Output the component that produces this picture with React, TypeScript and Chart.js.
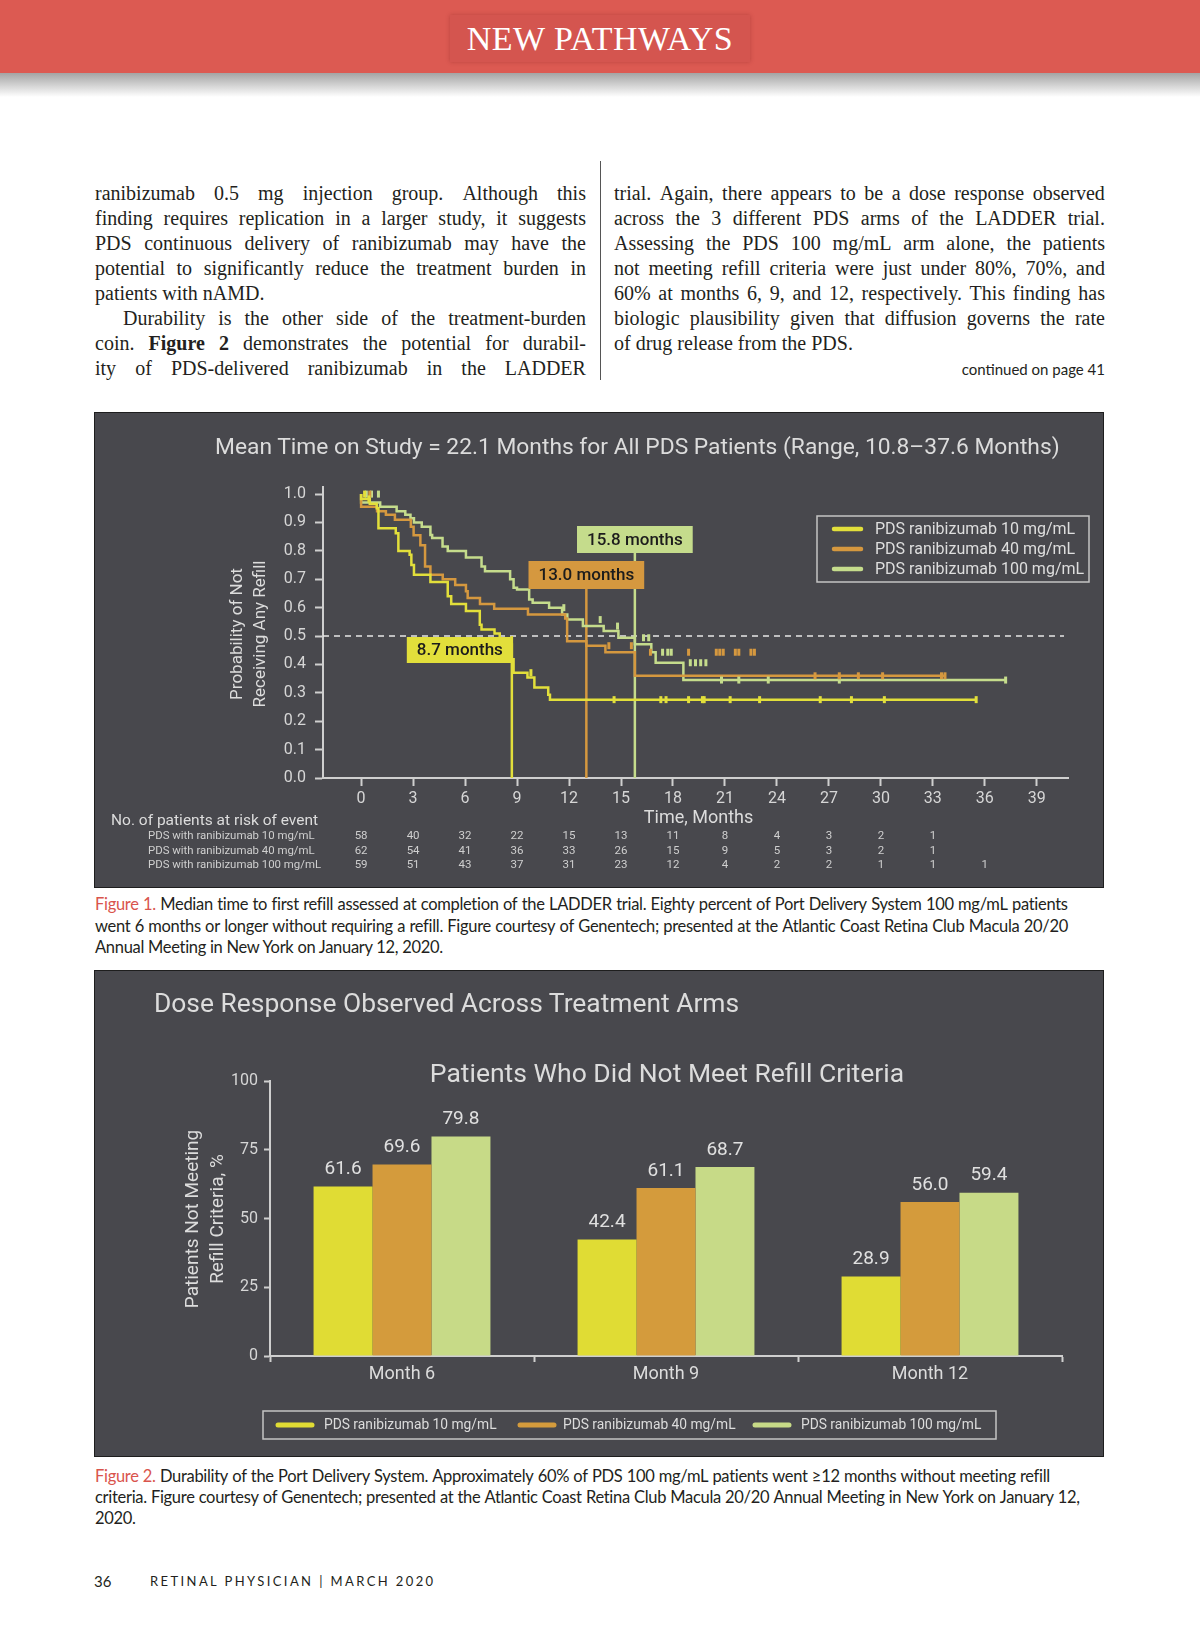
import React, { useEffect, useRef } from "react";
import { Chart, registerables } from "chart.js";

Chart.register(...registerables);

const FONT = "Roboto, 'Liberation Sans', Arial, sans-serif";
const TEXT_LIGHT = "#dcdcdc";
const AXIS = "#cfcfcf";
const PANEL_BG = "#48484d";
const INK = "#231f20";
const CAPTION_RED = "#d9544d";

// ===== Figure 1: Kaplan–Meier data =====
const kmXTicks = [0, 3, 6, 9, 12, 15, 18, 21, 24, 27, 30, 33, 36, 39];
const kmYTicks = [0, 0.1, 0.2, 0.3, 0.4, 0.5, 0.6, 0.7, 0.8, 0.9, 1.0];
const armLabels = ["PDS ranibizumab 10 mg/mL", "PDS ranibizumab 40 mg/mL", "PDS ranibizumab 100 mg/mL"];
const armColors = ["#e2df3b", "#d5983f", "#c5dc8c"];

const km10Time = [0, 0.5, 0.9, 1.0, 2.0, 2.15, 2.8, 2.9, 3.05, 4.0, 5.0, 5.2, 6.05, 6.85, 6.95, 7.7, 8.0, 8.7, 8.8, 9.6, 10.0, 10.8, 10.9, 13.6];
const km10Surv = [1.0, 0.983, 0.966, 0.95, 0.88, 0.862, 0.8, 0.786, 0.75, 0.716, 0.69, 0.64, 0.613, 0.588, 0.54, 0.523, 0.509, 0.47, 0.418, 0.371, 0.354, 0.319, 0.293, 0.276];
const km10End = 35.5;
const km10CensorTime = [0.2, 0.45, 9.8, 14.6, 17.3, 17.6, 18.9, 19.7, 19.8, 21.3, 23.0, 26.5, 28.3, 30.2, 35.5];
const km10CensorSurv = [1.0, 0.983, 0.371, 0.276, 0.276, 0.276, 0.276, 0.276, 0.276, 0.276, 0.276, 0.276, 0.276, 0.276, 0.276];

const km40Time = [0, 0.92, 1.43, 1.95, 2.87, 3.03, 3.42, 3.69, 4.0, 4.71, 5.43, 6.05, 6.15, 6.86, 7.68, 9.63, 11.78, 11.89, 13.0, 14.1, 15.8, 24.6];
const km40Surv = [1.0, 0.955, 0.94, 0.927, 0.91, 0.885, 0.855, 0.82, 0.745, 0.716, 0.7, 0.68, 0.658, 0.634, 0.613, 0.596, 0.576, 0.562, 0.482, 0.466, 0.443, 0.36];
const km40End = 33.7;
const km40CensorTime = [0.5, 14.3, 15.6, 16.7, 18.9, 20.5, 20.7, 20.9, 21.6, 21.8, 22.5, 22.7, 26.2, 27.6, 28.7, 30.1, 33.5, 33.7];
const km40CensorSurv = [1.0, 0.466, 0.466, 0.443, 0.443, 0.443, 0.443, 0.443, 0.443, 0.443, 0.443, 0.443, 0.36, 0.36, 0.36, 0.36, 0.36, 0.36];

const km100Time = [0, 1.1, 2.05, 2.55, 2.85, 3.05, 3.5, 4.0, 4.1, 4.7, 5.0, 6.05, 6.95, 7.15, 8.6, 8.8, 9.0, 9.7, 9.9, 10.85, 11.6, 11.9, 12.8, 14.0, 14.85, 15.8, 16.75, 17.0, 18.6, 20.7];
const km100Surv = [1.0, 0.97, 0.955, 0.94, 0.927, 0.915, 0.9, 0.885, 0.856, 0.845, 0.815, 0.8, 0.777, 0.745, 0.728, 0.7, 0.67, 0.664, 0.629, 0.617, 0.6, 0.576, 0.558, 0.535, 0.518, 0.494, 0.471, 0.443, 0.406, 0.345];
const km100End = 37.2;
const km100CensorTime = [0.3, 0.6, 1.0, 11.7, 13.8, 14.8, 16.3, 16.6, 17.4, 17.7, 17.9, 19.0, 19.3, 19.6, 19.9, 20.8, 21.8, 23.5, 27.6, 37.2];
const km100CensorSurv = [1.0, 1.0, 1.0, 0.6, 0.558, 0.535, 0.494, 0.494, 0.443, 0.443, 0.443, 0.406, 0.406, 0.406, 0.406, 0.345, 0.345, 0.345, 0.345, 0.345];

const medianMonths = [8.7, 13.0, 15.8];
const medianLabels = ["8.7 months", "13.0 months", "15.8 months"];

const riskTitle = "No. of patients at risk of event";
const riskTimes = [0, 3, 6, 9, 12, 15, 18, 21, 24, 27, 30, 33, 36];
const riskRowLabels = ["PDS with ranibizumab 10 mg/mL", "PDS with ranibizumab 40 mg/mL", "PDS with ranibizumab 100 mg/mL"];
const risk10 = [58, 40, 32, 22, 15, 13, 11, 8, 4, 3, 2, 1];
const risk40 = [62, 54, 41, 36, 33, 26, 15, 9, 5, 3, 2, 1];
const risk100 = [59, 51, 43, 37, 31, 23, 12, 4, 2, 2, 1, 1, 1];

// ===== Figure 2: bar data =====
const barCategories = ["Month 6", "Month 9", "Month 12"];
const bar10 = [61.6, 42.4, 28.9];
const bar40 = [69.6, 61.1, 56.0];
const bar100 = [79.8, 68.7, 59.4];
const barYTicks = [0, 25, 50, 75, 100];
const barColors = ["#e0dc34", "#d49b3c", "#c7da87"];

function stepData(t: number[], s: number[], end: number) {
  const d = t.map((x, i) => ({ x, y: s[i] }));
  d.push({ x: end, y: s[s.length - 1] });
  return d;
}
function pts(t: number[], s: number[]) {
  return t.map((x, i) => ({ x, y: s[i] }));
}

function KMChart() {
  const ref = useRef<HTMLCanvasElement>(null);
  useEffect(() => {
    const decor = {
      id: "kmDecor",
      beforeDatasetsDraw(chart: any) {
        const { ctx, chartArea, scales } = chart;
        const x = scales.x, y = scales.y;
        ctx.save();
        ctx.setLineDash([6, 5]);
        ctx.strokeStyle = "#e6e6e6";
        ctx.lineWidth = 1.4;
        const y5 = y.getPixelForValue(0.5);
        ctx.beginPath();
        ctx.moveTo(chartArea.left, y5);
        ctx.lineTo(chartArea.right - 4, y5);
        ctx.stroke();
        ctx.setLineDash([]);
        const tops = [y5, 176, 140];
        medianMonths.forEach((m, i) => {
          const px = x.getPixelForValue(m);
          ctx.strokeStyle = armColors[i];
          ctx.lineWidth = 2.5;
          ctx.beginPath();
          ctx.moveTo(px, tops[i]);
          ctx.lineTo(px, chartArea.bottom);
          ctx.stroke();
        });
        ctx.restore();
      },
      afterDatasetsDraw(chart: any) {
        const { ctx, chartArea, scales } = chart;
        const x = scales.x;
        ctx.save();
        ctx.font = `500 17px ${FONT}`;
        ctx.textBaseline = "middle";
        ctx.textAlign = "center";
        const boxTops = [224, 148, 113];
        const boxH = [26, 28, 27];
        medianMonths.forEach((m, i) => {
          const px = x.getPixelForValue(m);
          const w = ctx.measureText(medianLabels[i]).width + 20;
          const left = i === 0 ? px + 1 - w : px - w / 2;
          ctx.fillStyle = armColors[i];
          ctx.fillRect(left, boxTops[i], w, boxH[i]);
          ctx.fillStyle = "#1c1c1c";
          ctx.fillText(medianLabels[i], left + w / 2, boxTops[i] + boxH[i] / 2 + 1);
        });
        // legend
        ctx.strokeStyle = "#c4c4c4";
        ctx.lineWidth = 1.5;
        ctx.strokeRect(722, 103, 272, 66);
        ctx.font = `16px ${FONT}`;
        ctx.textAlign = "left";
        armLabels.forEach((lab, i) => {
          const yy = 116 + i * 20;
          ctx.strokeStyle = armColors[i];
          ctx.lineWidth = 4.5;
          ctx.lineCap = "round";
          ctx.beginPath();
          ctx.moveTo(739, yy);
          ctx.lineTo(766, yy);
          ctx.stroke();
          ctx.fillStyle = "#dedede";
          ctx.fillText(lab, 780, yy + 1);
        });
        // axis titles
        ctx.fillStyle = TEXT_LIGHT;
        ctx.font = `17px ${FONT}`;
        ctx.textAlign = "center";
        ctx.save();
        ctx.translate(143, 221);
        ctx.rotate(-Math.PI / 2);
        ctx.fillText("Probability of Not", 0, 0);
        ctx.restore();
        ctx.save();
        ctx.translate(166, 221);
        ctx.rotate(-Math.PI / 2);
        ctx.fillText("Receiving Any Refill", 0, 0);
        ctx.restore();
        ctx.font = `18px ${FONT}`;
        ctx.fillText("Time, Months", (chartArea.left + chartArea.right) / 2 + 3, 405);
        // risk table
        ctx.textAlign = "left";
        ctx.font = `15.5px ${FONT}`;
        ctx.fillStyle = TEXT_LIGHT;
        ctx.fillText(riskTitle, 16, 408);
        const rows = [risk10, risk40, risk100];
        const rowY = [423, 438, 452];
        rows.forEach((row, r) => {
          ctx.textAlign = "left";
          ctx.font = `11.4px ${FONT}`;
          ctx.fillStyle = "#cfcfcf";
          ctx.fillText(riskRowLabels[r], 53, rowY[r]);
          ctx.textAlign = "center";
          ctx.font = `11.5px ${FONT}`;
          row.forEach((v, k) => {
            ctx.fillText(String(v), x.getPixelForValue(riskTimes[k]), rowY[r]);
          });
        });
        ctx.restore();
      },
    };

    const lines = [
      stepData(km10Time, km10Surv, km10End),
      stepData(km40Time, km40Surv, km40End),
      stepData(km100Time, km100Surv, km100End),
    ];
    const censors = [
      pts(km10CensorTime, km10CensorSurv),
      pts(km40CensorTime, km40CensorSurv),
      pts(km100CensorTime, km100CensorSurv),
    ];
    const datasets: any[] = [];
    lines.forEach((d, i) =>
      datasets.push({
        label: armLabels[i],
        data: d,
        borderColor: armColors[i],
        borderWidth: 2.5,
        stepped: "after",
        pointRadius: 0,
        fill: false,
        order: 2,
      })
    );
    censors.forEach((d, i) =>
      datasets.push({
        label: armLabels[i] + " censored",
        data: d,
        showLine: false,
        borderColor: armColors[i],
        backgroundColor: armColors[i],
        pointStyle: "line",
        rotation: 90,
        pointRadius: 3.5,
        pointBorderWidth: 3,
        order: 1,
      })
    );

    const chart = new Chart(ref.current as HTMLCanvasElement, {
      type: "line",
      data: { datasets },
      options: {
        animation: false,
        responsive: false,
        maintainAspectRatio: false,
        events: [],
        layout: { padding: { top: 74, right: 35, bottom: 0, left: 0 } },
        plugins: { legend: { display: false }, tooltip: { enabled: false }, title: { display: false } },
        scales: {
          x: {
            type: "linear",
            min: -2.2,
            max: 40.8,
            afterBuildTicks: (s: any) => {
              s.ticks = kmXTicks.map((v) => ({ value: v }));
            },
            afterFit: (s: any) => {
              s.height = 109;
            },
            grid: { drawOnChartArea: false, drawTicks: true, tickLength: 8, color: AXIS, tickColor: AXIS, tickWidth: 2 },
            border: { display: true, color: AXIS, width: 2 },
            ticks: { color: "#d6d6d6", font: { family: FONT, size: 16 }, padding: 3, maxRotation: 0, autoSkip: false },
          },
          y: {
            type: "linear",
            min: 0,
            max: 1.025,
            afterBuildTicks: (s: any) => {
              s.ticks = kmYTicks.map((v) => ({ value: v }));
            },
            afterFit: (s: any) => {
              s.width = 228;
            },
            grid: { drawOnChartArea: false, drawTicks: true, tickLength: 8, color: AXIS, tickColor: AXIS, tickWidth: 2 },
            border: { display: true, color: AXIS, width: 2 },
            ticks: {
              color: "#d6d6d6",
              font: { family: FONT, size: 16 },
              padding: 9,
              callback: (v: any) => Number(v).toFixed(1),
            },
          },
        },
      } as any,
      plugins: [decor],
    });
    return () => chart.destroy();
  }, []);
  return <canvas ref={ref} width={1008} height={474} style={{ position: "absolute", left: 0, top: 0, width: 1008, height: 474 }} />;
}

function BarChart() {
  const ref = useRef<HTMLCanvasElement>(null);
  useEffect(() => {
    const decor = {
      id: "barDecor",
      afterDatasetsDraw(chart: any) {
        const { ctx } = chart;
        ctx.save();
        ctx.font = `19px ${FONT}`;
        ctx.fillStyle = "#e0e0e0";
        ctx.textAlign = "center";
        ctx.textBaseline = "middle";
        chart.data.datasets.forEach((ds: any, i: number) => {
          const meta = chart.getDatasetMeta(i);
          meta.data.forEach((bar: any, k: number) => {
            ctx.fillText(Number(ds.data[k]).toFixed(1), bar.x, bar.y - 17);
          });
        });
        ctx.fillStyle = TEXT_LIGHT;
        ctx.font = `19px ${FONT}`;
        ctx.save();
        ctx.translate(98, 248);
        ctx.rotate(-Math.PI / 2);
        ctx.fillText("Patients Not Meeting", 0, 0);
        ctx.restore();
        ctx.save();
        ctx.translate(123, 248);
        ctx.rotate(-Math.PI / 2);
        ctx.fillText("Refill Criteria, %", 0, 0);
        ctx.restore();
        ctx.strokeStyle = "#c4c4c4";
        ctx.lineWidth = 1.5;
        ctx.strokeRect(168, 440, 733, 28);
        const sw = [181, 423, 658];
        const tx = [229, 468, 706];
        ctx.font = `13.8px ${FONT}`;
        ctx.textAlign = "left";
        armLabels.forEach((lab, i) => {
          ctx.strokeStyle = barColors[i];
          ctx.lineWidth = 5;
          ctx.lineCap = "round";
          ctx.beginPath();
          ctx.moveTo(sw[i] + 2, 454);
          ctx.lineTo(sw[i] + 36, 454);
          ctx.stroke();
          ctx.fillStyle = "#dcdcdc";
          ctx.fillText(lab, tx[i], 455);
        });
        ctx.restore();
      },
    };
    const chart = new Chart(ref.current as HTMLCanvasElement, {
      type: "bar",
      data: {
        labels: barCategories,
        datasets: [
          { label: armLabels[0], data: bar10, backgroundColor: barColors[0] },
          { label: armLabels[1], data: bar40, backgroundColor: barColors[1] },
          { label: armLabels[2], data: bar100, backgroundColor: barColors[2] },
        ],
      },
      options: {
        animation: false,
        responsive: false,
        maintainAspectRatio: false,
        events: [],
        layout: { padding: { top: 110, right: 41, bottom: 0, left: 0 } },
        datasets: { bar: { categoryPercentage: 0.67, barPercentage: 1.0 } },
        plugins: { legend: { display: false }, tooltip: { enabled: false } },
        scales: {
          x: {
            afterFit: (s: any) => {
              s.height = 100;
            },
            grid: { offset: true, drawOnChartArea: false, drawTicks: true, tickLength: 6, color: AXIS, tickColor: AXIS, tickWidth: 2 },
            border: { display: true, color: AXIS, width: 2 },
            ticks: { color: "#dcdcdc", font: { family: FONT, size: 18 }, padding: 2 },
          },
          y: {
            min: 0,
            max: 100,
            afterBuildTicks: (s: any) => {
              s.ticks = barYTicks.map((v) => ({ value: v }));
            },
            afterFit: (s: any) => {
              s.width = 175;
            },
            grid: { drawOnChartArea: false, drawTicks: true, tickLength: 6, color: AXIS, tickColor: AXIS, tickWidth: 2 },
            border: { display: true, color: AXIS, width: 2 },
            ticks: { color: "#d6d6d6", font: { family: FONT, size: 16 }, padding: 6 },
          },
        },
      } as any,
      plugins: [decor],
    });
    return () => chart.destroy();
  }, []);
  return <canvas ref={ref} width={1008} height={485} style={{ position: "absolute", left: 0, top: 0, width: 1008, height: 485 }} />;
}

function renderWord(w: string, key: number) {
  if (w.startsWith("*")) return <b key={key}>{w.slice(1)}</b>;
  if (w.startsWith("^")) return <span key={key} style={{ color: CAPTION_RED }}>{w.slice(1)}</span>;
  return <span key={key}>{w}</span>;
}

function TextLine({ text, justify, indent = 0, width, height, style }: any) {
  const words = text.split(" ");
  if (justify) {
    return (
      <div style={{ display: "flex", justifyContent: "space-between", whiteSpace: "nowrap", paddingLeft: indent, width: width - indent, height, lineHeight: height + "px", ...style }}>
        {words.map((w: string, i: number) => renderWord(w, i))}
      </div>
    );
  }
  return (
    <div style={{ whiteSpace: "pre", paddingLeft: indent, height, lineHeight: height + "px", ...style }}>
      {words.map((w: string, i: number) => (
        <React.Fragment key={i}>
          {renderWord(w, i)}
          {i < words.length - 1 ? " " : ""}
        </React.Fragment>
      ))}
    </div>
  );
}

const leftLines = [
  { t: "ranibizumab 0.5 mg injection group. Although this", j: true },
  { t: "finding requires replication in a larger study, it suggests", j: true },
  { t: "PDS continuous delivery of ranibizumab may have the", j: true },
  { t: "potential to significantly reduce the treatment burden in", j: true },
  { t: "patients with nAMD.", j: false },
  { t: "Durability is the other side of the treatment-burden", j: true, indent: 28 },
  { t: "coin. *Figure *2 demonstrates the potential for durabil-", j: true },
  { t: "ity of PDS-delivered ranibizumab in the LADDER", j: true },
];
const rightLines = [
  { t: "trial. Again, there appears to be a dose response observed", j: true },
  { t: "across the 3 different PDS arms of the LADDER trial.", j: true },
  { t: "Assessing the PDS 100 mg/mL arm alone, the patients", j: true },
  { t: "not meeting refill criteria were just under 80%, 70%, and", j: true },
  { t: "60% at months 6, 9, and 12, respectively. This finding has", j: true },
  { t: "biologic plausibility given that diffusion governs the rate", j: true },
  { t: "of drug release from the PDS.", j: false },
];
const caption1 = [
  { t: "^Figure ^1. Median time to first refill assessed at completion of the LADDER trial. Eighty percent of Port Delivery System 100 mg/mL patients", w: 973 },
  { t: "went 6 months or longer without requiring a refill. Figure courtesy of Genentech; presented at the Atlantic Coast Retina Club Macula 20/20", w: 973 },
  { t: "Annual Meeting in New York on January 12, 2020.", w: 0 },
];
const caption2 = [
  { t: "^Figure ^2. Durability of the Port Delivery System. Approximately 60% of PDS 100 mg/mL patients went ≥12 months without meeting refill", w: 955 },
  { t: "criteria. Figure courtesy of Genentech; presented at the Atlantic Coast Retina Club Macula 20/20 Annual Meeting in New York on January 12,", w: 985 },
  { t: "2020.", w: 0 },
];

const bodyFont: React.CSSProperties = { fontFamily: "'Liberation Serif', 'Times New Roman', serif", fontSize: 20, color: INK };
const capFont: React.CSSProperties = { fontFamily: "Lato, 'Open Sans', sans-serif", fontSize: 16.5, color: INK, letterSpacing: -0.3 };

export default function App() {
  return (
    <div style={{ position: "absolute", left: 0, top: 0, width: 1200, height: 1631, background: "#ffffff", overflow: "hidden" }}>
      <div style={{ position: "absolute", left: 0, top: 0, width: 1200, height: 73, background: "#dc5a52" }} />
      <div style={{ position: "absolute", left: 0, top: 73, width: 1200, height: 24, background: "linear-gradient(#a4a4a4, #ffffff)" }} />
      <div
        style={{
          position: "absolute",
          left: 450,
          top: 15,
          width: 300,
          height: 47,
          background: "#d4554f",
          boxShadow: "0 0 4px rgba(120,30,30,0.35)",
          color: "#ffffff",
          fontFamily: "'Liberation Serif', 'Times New Roman', serif",
          fontSize: 34,
          lineHeight: "47px",
          textAlign: "center",
          letterSpacing: 0.5,
        }}
      >
        NEW PATHWAYS
      </div>

      <div style={{ position: "absolute", left: 95, top: 181, width: 491, ...bodyFont }}>
        {leftLines.map((l, i) => (
          <TextLine key={i} text={l.t} justify={l.j} indent={(l as any).indent || 0} width={491} height={25} />
        ))}
      </div>
      <div style={{ position: "absolute", left: 600, top: 161, width: 1, height: 219, background: "#555" }} />
      <div style={{ position: "absolute", left: 614, top: 181, width: 491, ...bodyFont }}>
        {rightLines.map((l, i) => (
          <TextLine key={i} text={l.t} justify={l.j} width={491} height={25} />
        ))}
      </div>
      <div style={{ position: "absolute", right: 1200 - 1105, top: 359, fontFamily: "Lato, sans-serif", fontSize: 15, color: INK, lineHeight: "20px" }}>
        continued on page 41
      </div>

      <div style={{ position: "absolute", left: 94, top: 412, width: 1008, height: 474, border: "1px solid #1e1e1e", background: PANEL_BG }}>
        <KMChart />
        <div style={{ position: "absolute", left: 120, top: 19, whiteSpace: "nowrap", fontFamily: FONT, fontSize: 22.8, lineHeight: "30px", color: TEXT_LIGHT }}>
          Mean Time on Study = 22.1 Months for All PDS Patients (Range, 10.8–37.6 Months)
        </div>
      </div>
      <div style={{ position: "absolute", left: 95, top: 894, ...capFont }}>
        {caption1.map((l, i) => (
          <TextLine key={i} text={l.t} justify={l.w > 0} width={l.w} height={21.5} />
        ))}
      </div>

      <div style={{ position: "absolute", left: 94, top: 970, width: 1008, height: 485, border: "1px solid #1e1e1e", background: PANEL_BG }}>
        <BarChart />
        <div style={{ position: "absolute", left: 59, top: 16, whiteSpace: "nowrap", fontFamily: FONT, fontSize: 26.4, lineHeight: "32px", color: TEXT_LIGHT }}>
          Dose Response Observed Across Treatment Arms
        </div>
        <div style={{ position: "absolute", left: 572, top: 86, transform: "translateX(-50%)", whiteSpace: "nowrap", fontFamily: FONT, fontSize: 26.5, lineHeight: "32px", color: TEXT_LIGHT }}>
          Patients Who Did Not Meet Refill Criteria
        </div>
      </div>
      <div style={{ position: "absolute", left: 95, top: 1466, ...capFont }}>
        {caption2.map((l, i) => (
          <TextLine key={i} text={l.t} justify={l.w > 0} width={l.w} height={21} />
        ))}
      </div>

      <div style={{ position: "absolute", left: 94, top: 1571, fontFamily: "Lato, sans-serif", fontSize: 15, color: INK, lineHeight: "20px" }}>36</div>
      <div style={{ position: "absolute", left: 150, top: 1572, fontFamily: "Lato, sans-serif", fontSize: 13, letterSpacing: 2.4, color: INK, lineHeight: "18px", whiteSpace: "pre" }}>
        RETINAL PHYSICIAN | MARCH 2020
      </div>
    </div>
  );
}
